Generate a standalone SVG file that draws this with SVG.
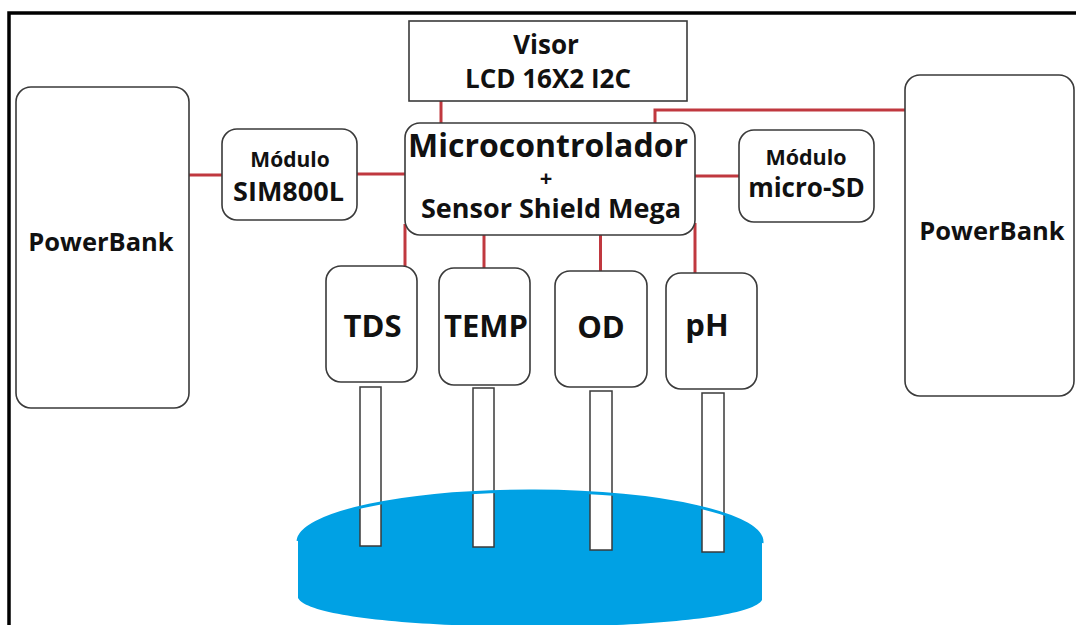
<svg xmlns="http://www.w3.org/2000/svg" width="1076" height="625" viewBox="0 0 1076 625">
<style>
.box{fill:#fff;stroke:#3a3a3a;stroke-width:1.6}
.probe{fill:#fff;stroke:#3a3a3a;stroke-width:1.5}
.t{font-family:"Open Sans","Liberation Sans",Arial,sans-serif;font-weight:bold;fill:#111;text-anchor:middle}
.con{fill:none;stroke:#c0383f;stroke-width:3}
</style>
<rect x="0" y="0" width="1076" height="625" fill="#fff"/>
<path d="M9,625 V13 H1076" fill="none" stroke="#000" stroke-width="3.5"/>

<g id="water">
<path d="M298,598 V541 A232,51 0 0 1 762,543 V600 C742,636 318,636 298,598 Z" fill="#00a1e4"/>
</g>

<g id="connectors">
<path class="con" d="M189,175 H222"/>
<path class="con" d="M357,174 H405"/>
<path class="con" d="M441,101 V123"/>
<path class="con" d="M655,123 V110 H905"/>
<path class="con" d="M695,176 H739"/>
<path class="con" d="M405,224 V266"/>
<path class="con" d="M484,235 V268"/>
<path class="con" d="M600.5,235 V271"/>
<path class="con" d="M695,223 V273"/>
</g>

<g id="powerbank-left">
<rect class="box" x="16" y="87" width="173" height="321" rx="15"/>
<text class="t" x="101" y="251" font-size="25.5">PowerBank</text>
</g>
<g id="sim800l">
<rect class="box" x="222" y="129" width="135" height="91" rx="15"/>
<text class="t" x="290" y="167" font-size="21">Módulo</text>
<text class="t" x="288.5" y="201" font-size="27">SIM800L</text>
</g>
<g id="visor">
<rect class="box" x="409" y="21" width="278" height="80"/>
<text class="t" x="546" y="54" font-size="26">Visor</text>
<text class="t" x="548" y="88" font-size="26">LCD 16X2 I2C</text>
</g>
<g id="microcontrolador">
<rect class="box" x="405" y="123" width="290" height="112" rx="15"/>
<text class="t" x="548" y="157" font-size="32">Microcontrolador</text>
<text class="t" x="546" y="186" font-size="22">+</text>
<text class="t" x="551" y="218" font-size="27">Sensor Shield Mega</text>
</g>
<g id="microsd">
<rect class="box" x="739" y="130" width="135" height="92" rx="15"/>
<text class="t" x="806" y="165" font-size="21.5">Módulo</text>
<text class="t" x="806.5" y="197" font-size="26">micro-SD</text>
</g>
<g id="powerbank-right">
<rect class="box" x="905" y="75" width="169" height="321" rx="15"/>
<text class="t" x="992" y="240" font-size="25.5">PowerBank</text>
</g>

<g id="tds">
<rect class="box" x="326" y="266" width="91" height="116" rx="15"/>
<text class="t" x="372.5" y="337" font-size="31">TDS</text>
<rect class="probe" x="360" y="387" width="21" height="159"/>
</g>
<g id="temp">
<rect class="box" x="439" y="268" width="91" height="117" rx="15"/>
<text class="t" x="486" y="337" font-size="31">TEMP</text>
<rect class="probe" x="473" y="388" width="21" height="159"/>
</g>
<g id="od">
<rect class="box" x="555" y="271" width="92" height="116" rx="15"/>
<text class="t" x="601" y="338" font-size="31">OD</text>
<rect class="probe" x="590" y="391" width="22" height="159"/>
</g>
<g id="ph">
<rect class="box" x="666" y="273" width="91" height="116" rx="15"/>
<text class="t" x="707" y="336" font-size="31">pH</text>
<rect class="probe" x="702" y="393" width="22" height="159"/>
</g>

<path d="M298,541 A232,51 0 0 1 762,543" fill="none" stroke="#00a1e4" stroke-width="3"/>
</svg>
